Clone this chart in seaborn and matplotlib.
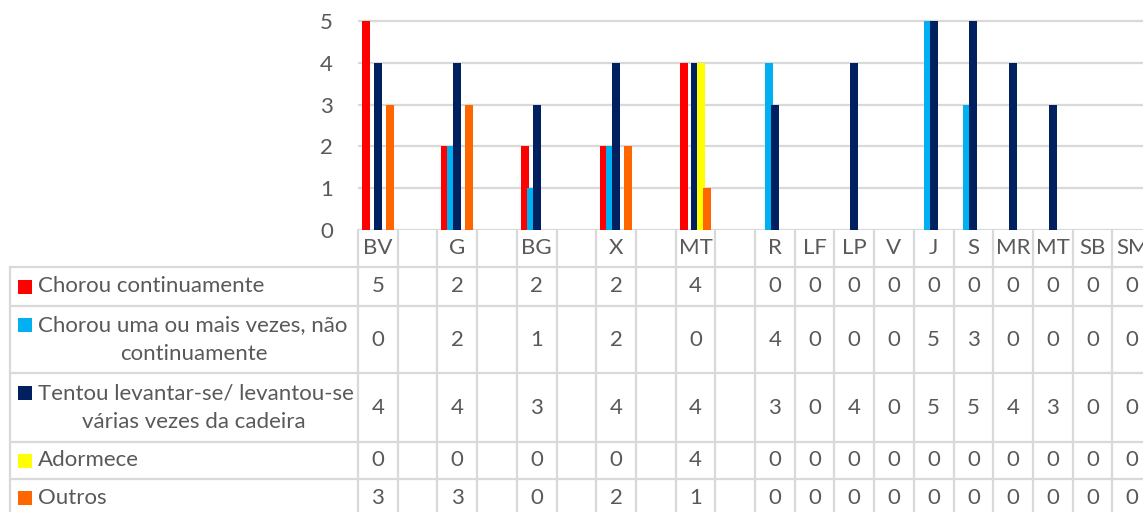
import matplotlib
matplotlib.use('Agg')
import matplotlib.pyplot as plt
import matplotlib.transforms as mtransforms
from matplotlib.lines import Line2D
from matplotlib.patches import Rectangle
import seaborn as sns
import pandas as pd

# ------------------------------------------------------------------
# data (None = empty spacer column)
# ------------------------------------------------------------------
categories = ['BV', '', 'G', '', 'BG', '', 'X', '', 'MT', '',
              'R', 'LF', 'LP', 'V', 'J', 'S', 'MR', 'MT', 'SB', 'SM']
series_names = ['Chorou continuamente',
                'Chorou uma ou mais vezes, não continuamente',
                'Tentou levantar-se/ levantou-se várias vezes da cadeira',
                'Adormece',
                'Outros']
table_labels = ['Chorou continuamente',
                'Chorou uma ou mais vezes, não\ncontinuamente',
                'Tentou levantar-se/ levantou-se\nvárias vezes da cadeira',
                'Adormece',
                'Outros']
chorou_cont = [5, None, 2, None, 2, None, 2, None, 4, None, 0, 0, 0, 0, 0, 0, 0, 0, 0, 0]
chorou_vezes = [0, None, 2, None, 1, None, 2, None, 0, None, 4, 0, 0, 0, 5, 3, 0, 0, 0, 0]
levantou = [4, None, 4, None, 3, None, 4, None, 4, None, 3, 0, 4, 0, 5, 5, 4, 3, 0, 0]
adormece = [0, None, 0, None, 0, None, 0, None, 4, None, 0, 0, 0, 0, 0, 0, 0, 0, 0, 0]
outros = [3, None, 3, None, 0, None, 2, None, 1, None, 0, 0, 0, 0, 0, 0, 0, 0, 0, 0]
colors = ['#FF0000', '#00B0F0', '#002060', '#FFFF00', '#FF6600']

all_series = [chorou_cont, chorou_vezes, levantou, adormece, outros]
rows = []
for name, vals in zip(series_names, all_series):
    for i, v in enumerate(vals):
        if v is not None:
            rows.append({'pos': i, 'series': name, 'value': v})
df = pd.DataFrame(rows)

# ------------------------------------------------------------------
# figure / layout
# ------------------------------------------------------------------
W, H = 1143, 512
sns.set_style('white')
plt.rcParams['font.family'] = ['Lato', 'DejaVu Sans']
txt_color = '#595959'
grid_color = '#D9D9D9'
fs = 16

fig = plt.figure(figsize=(W / 100, H / 100), dpi=100)

px_unit = (230 - 21) / 5.0
ymax = 5.08
ax_left, ax_right = 358, 358 + 20 * 39.7
ax = fig.add_axes([ax_left / W, 1 - 230 / H, (ax_right - ax_left) / W, ymax * px_unit / H])

sns.barplot(data=df, x='pos', y='value', hue='series', order=list(range(len(categories))),
            hue_order=series_names, palette=colors, width=0.75, dodge=True,
            saturation=1, errorbar=None, linewidth=0, legend=False, ax=ax)

# Excel-like overlapping bars
bw = 0.2
for p in ax.patches:
    cx = p.get_x() + p.get_width() / 2
    p.set_width(bw)
    p.set_x(cx - bw / 2)

ax.set_xlim(-0.5, len(categories) - 0.5)
ax.set_ylim(0, ymax)
ax.set_yticks(range(6))
ax.set_xticks([])
ax.set_xlabel('')
ax.set_ylabel('')
ax.yaxis.grid(True, color=grid_color, lw=1.6)
ax.set_axisbelow(True)
for s in ax.spines.values():
    s.set_visible(False)
ax.tick_params(axis='y', length=0, pad=18, labelsize=fs, labelcolor=txt_color)

# ------------------------------------------------------------------
# data table under the chart
# ------------------------------------------------------------------
def fy(y):
    return 1 - y / H

tr = mtransforms.blended_transform_factory(ax.transData, fig.transFigure)
row_edges = [267, 306, 373, 442, 479, 517]
line_kw = dict(color=grid_color, lw=1.6, clip_on=False)

# horizontal lines
for y in row_edges[:-1]:
    fig.add_artist(Line2D([10 / W, 1], [fy(y), fy(y)], **line_kw))
# vertical lines
fig.add_artist(Line2D([10 / W, 10 / W], [fy(267), 0], **line_kw))
for k in range(len(categories) + 1):
    fig.add_artist(Line2D([k - 0.5, k - 0.5], [fy(230), 0], transform=tr, **line_kw))

# header labels
for k, c in enumerate(categories):
    fig.text(k, fy(248.5), c, transform=tr, ha='center', va='center',
             fontsize=fs, color=txt_color)

# rows
for r, (lab, vals, col) in enumerate(zip(table_labels, all_series, colors)):
    y0, y1 = row_edges[r], row_edges[r + 1]
    yc = (y0 + y1) / 2
    lines = lab.split('\n')
    if len(lines) == 1:
        y_first = yc
        fig.text(38 / W, fy(yc), lines[0], ha='left', va='center', fontsize=fs, color=txt_color)
    else:
        y_first = yc - 14.5
        fig.text(38 / W, fy(y_first), lines[0], ha='left', va='center', fontsize=fs, color=txt_color)
        fig.text(194 / W, fy(yc + 14.5), lines[1], ha='center', va='center', fontsize=fs, color=txt_color)
    fig.add_artist(Rectangle((18 / W, fy(y_first + 7)), 14 / W, 14 / H, color=col, lw=0))
    for k, v in enumerate(vals):
        if v is not None:
            fig.text(k, fy(yc), str(v), transform=tr, ha='center', va='center',
                     fontsize=fs, color=txt_color)

fig.savefig('out.png', dpi=100)
